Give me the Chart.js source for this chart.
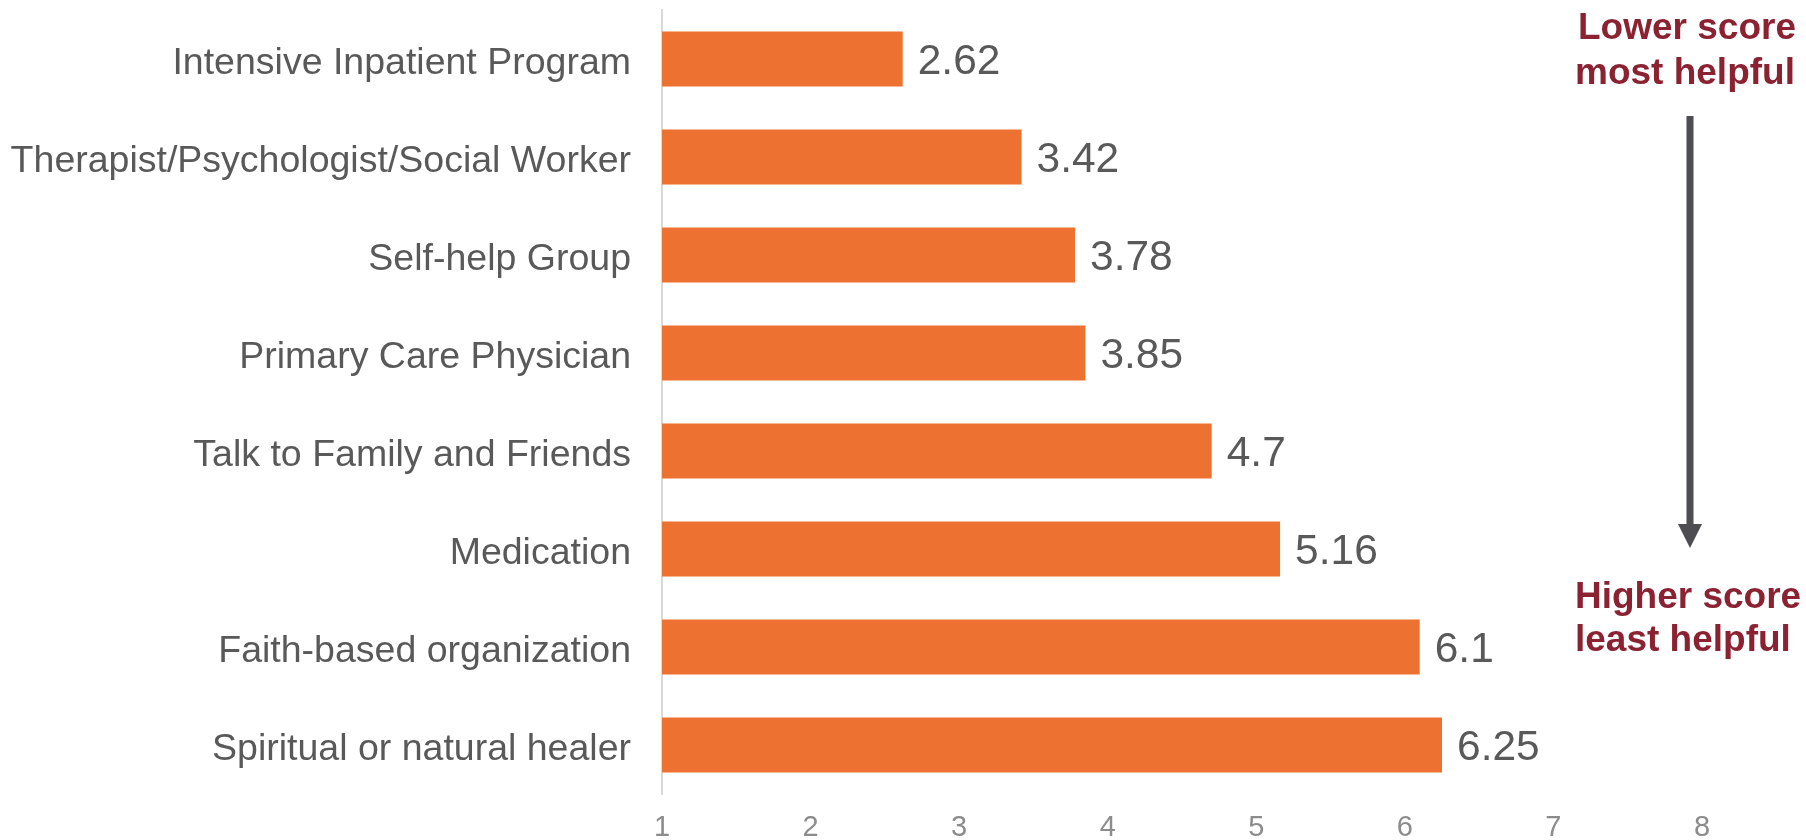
<!DOCTYPE html>
<html>
<head>
<meta charset="utf-8">
<script src="https://cdn.jsdelivr.net/npm/chart.js@4.4.0/dist/chart.umd.min.js"></script>
<style>
  html, body { margin: 0; padding: 0; background: #fff; }
  #wrap { width: 1806px; height: 840px; position: relative; }
</style>
</head>
<body>
<div id="wrap"><canvas id="helpfulChart"></canvas></div>
<script>
// data
const categories = [
  "Intensive Inpatient Program",
  "Therapist/Psychologist/Social Worker",
  "Self-help Group",
  "Primary Care Physician",
  "Talk to Family and Friends",
  "Medication",
  "Faith-based organization",
  "Spiritual or natural healer"
];
const scores = [2.62, 3.42, 3.78, 3.85, 4.7, 5.16, 6.1, 6.25];
const scoreLabels = ["2.62", "3.42", "3.78", "3.85", "4.7", "5.16", "6.1", "6.25"];
const xTicks = [1, 2, 3, 4, 5, 6, 7, 8];

const labelFont = "Liberation Sans, Arial, sans-serif";

// value labels at bar ends
const valueLabels = {
  id: "valueLabels",
  afterDatasetsDraw(chart) {
    const ctx = chart.ctx;
    const meta = chart.getDatasetMeta(0);
    ctx.save();
    ctx.font = "42.5px " + labelFont;
    ctx.fillStyle = "#595959";
    ctx.textBaseline = "middle";
    ctx.textAlign = "left";
    meta.data.forEach((bar, i) => {
      ctx.fillText(scoreLabels[i], bar.x + 15, bar.y + 3);
    });
    ctx.restore();
  }
};

// side note with arrow
const sideNote = {
  id: "sideNote",
  afterDraw(chart) {
    const ctx = chart.ctx;
    ctx.save();
    ctx.font = "bold 37px " + labelFont;
    ctx.fillStyle = "#8b2232";
    ctx.textBaseline = "middle";
    ctx.textAlign = "left";
    ctx.fillText("Lower score", 1578, 29);
    ctx.fillText("most helpful", 1575, 74);
    ctx.fillText("Higher score", 1575, 598);
    ctx.fillText("least helpful", 1575, 641);

    // arrow
    const ax = 1690;
    ctx.fillStyle = "#4d4d52";
    ctx.fillRect(ax - 3.5, 116, 7, 412);
    ctx.beginPath();
    ctx.moveTo(ax - 12, 524);
    ctx.lineTo(ax + 12, 524);
    ctx.lineTo(ax, 548);
    ctx.closePath();
    ctx.fill();
    ctx.restore();
  }
};

new Chart(document.getElementById("helpfulChart"), {
  type: "bar",
  data: {
    labels: categories,
    datasets: [
      {
        data: scores,
        base: 1,
        backgroundColor: "#ed7131",
        borderWidth: 0,
        categoryPercentage: 1,
        barPercentage: 0.56
      }
    ]
  },
  options: {
    indexAxis: "y",
    responsive: true,
    maintainAspectRatio: false,
    animation: false,
    layout: { padding: { top: 10, right: 104, left: 0, bottom: 0 } },
    plugins: {
      legend: { display: false },
      tooltip: { enabled: false }
    },
    scales: {
      x: {
        type: "linear",
        min: 1,
        max: 8,
        afterBuildTicks: (axis) => {
          axis.ticks = xTicks.map(v => ({ value: v }));
        },
        afterFit: (axis) => { axis.height = 46; },
        grid: { display: false, drawTicks: false },
        border: { display: false },
        ticks: {
          padding: 17,
          color: "#8c8c8c",
          font: { family: "Liberation Sans Narrow, Liberation Sans, Arial, sans-serif", size: 29 }
        }
      },
      y: {
        afterFit: (axis) => { axis.width = 662; },
        grid: { display: false, drawTicks: true, tickLength: 31 },
        border: { display: true, color: "#d9d9d9", width: 2 },
        ticks: {
          padding: 0,
          labelOffset: 5,
          color: "#595959",
          font: { family: labelFont, size: 37.5, lineHeight: 0.5 }
        }
      }
    }
  },
  plugins: [valueLabels, sideNote]
});
</script>
</body>
</html>
